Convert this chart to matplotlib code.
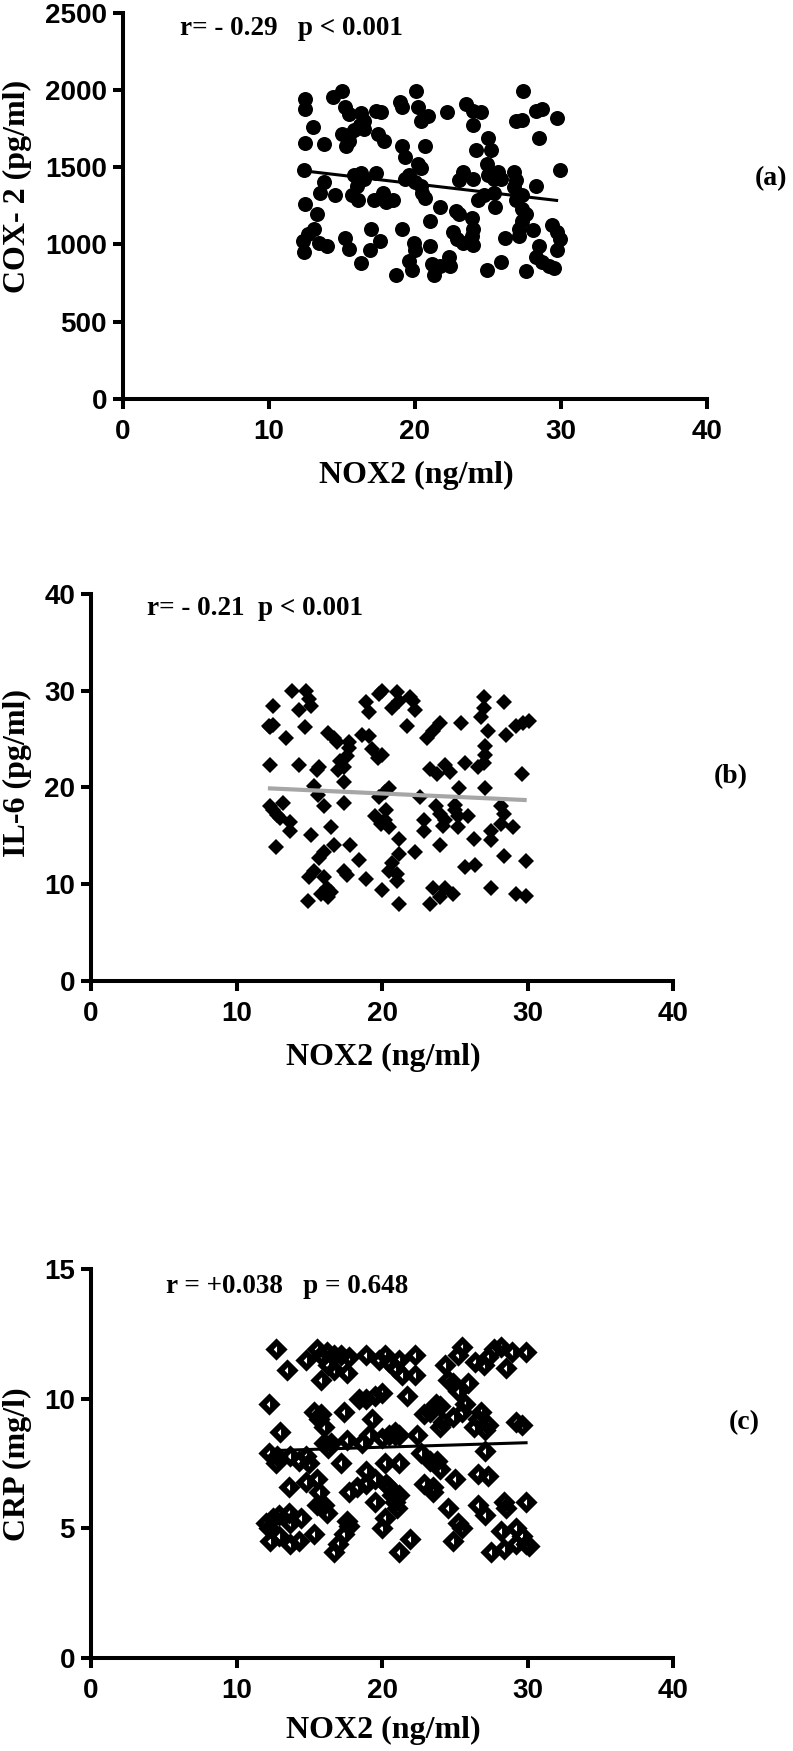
import matplotlib
matplotlib.use("Agg")
import matplotlib.pyplot as plt
from matplotlib.path import Path

# Panel (a): NOX2 vs COX-2
nox_a = [12.5, 12.5, 13.0, 12.5, 13.8, 12.4, 13.8, 13.5, 14.5, 12.5, 13.3, 13.1, 12.7, 12.3, 12.4,
         13.4, 14.0, 14.4, 15.0, 15.2, 15.5, 15.0, 15.5, 15.8, 15.3, 15.5, 16.3, 16.5, 16.2, 16.5,
         17.3, 17.7, 17.5, 17.9, 15.8, 16.0, 16.3, 16.5, 17.3, 15.7, 16.1, 17.2, 17.8, 18.0, 18.5,
         17.0, 15.2, 15.5, 16.3, 16.9, 17.6, 18.7, 19.1, 19.0, 19.1, 19.1, 19.3, 19.3, 19.6, 20.1,
         20.2, 20.4, 20.9, 20.7, 20.2, 20.4, 20.0, 20.4, 20.5, 20.7, 21.7, 21.0, 19.6, 19.8, 19.9,
         20.0, 21.0, 21.2, 21.3, 21.7, 22.2, 22.3, 22.4, 23.5, 24.0, 24.5, 24.0, 24.2, 23.3, 23.0,
         24.0, 22.8, 23.0, 23.9, 24.0, 23.9, 22.6, 22.9, 23.3, 24.0, 24.3, 24.7, 25.0, 25.2, 24.9,
         25.0, 25.4, 25.7, 25.9, 25.4, 25.5, 24.9, 25.9, 26.2, 26.9, 27.3, 27.4, 26.8, 26.9, 26.8,
         27.3, 26.9, 27.3, 27.6, 27.3, 27.1, 27.1, 27.6, 28.3, 28.7, 28.5, 28.3, 28.1, 28.5, 28.3,
         28.7, 29.2, 29.4, 29.7, 29.7, 29.9, 29.9, 29.7, 29.5]
cox2 = [1939, 1876, 1761, 1657, 1650, 1484, 1403, 1334, 1322, 1260, 1196, 1103, 1069, 1022, 953,
        1011, 993, 1953, 1992, 1888, 1842, 1717, 1705, 1740, 1634, 1668, 1853, 1796, 1773, 1750,
        1865, 1860, 1715, 1668, 1449, 1380, 1461, 1426, 1461, 1322, 1288, 1288, 1334, 1276, 1288,
        1103, 1045, 972, 877, 965, 1022, 803, 1103, 1923, 1888, 1634, 1565, 1426, 1449, 1992,
        1888, 1796, 1830, 1634, 1519, 1496, 1403, 1380, 1334, 1300, 1242, 1149, 895, 838, 1011,
        965, 988, 872, 803, 861, 1858, 918, 861, 1911, 1865, 1858, 1773, 1611, 1472, 1415,
        1426, 1219, 1196, 1172, 1103, 1057, 1080, 1034, 1011, 999, 1288, 1322, 1692, 1611, 1519,
        1449, 1426, 1472, 1426, 1334, 1242, 838, 884, 1045, 1796, 1807, 1992, 1472, 1415, 1369,
        1322, 1288, 1230, 1196, 1149, 1103, 1057, 826, 1865, 1876, 1692, 1380, 1092, 988, 918,
        884, 861, 1126, 1080, 1819, 1484, 1034, 965, 849]
fit_a_x = [12.5, 29.7]
fit_a_y = [1475, 1285]

# Panel (b): NOX2 vs IL-6
nox_b = [12.5, 12.2, 12.3, 12.5, 12.3, 12.3, 12.5, 12.8, 13.0, 13.2, 13.7, 13.7, 12.7, 13.4, 13.8,
         14.3, 14.3, 14.8, 15.0, 15.1, 14.7, 15.5, 15.7, 15.3, 15.6, 16.0, 15.1, 14.9, 15.0, 15.3,
         15.7, 16.0, 16.0, 16.2, 15.8, 16.5, 16.3, 16.5, 16.7, 16.3, 16.7, 16.9, 17.1, 17.4, 17.0,
         17.6, 17.7, 17.7, 17.4, 17.4, 17.4, 17.6, 17.8, 18.4, 18.6, 19.1, 18.9, 19.1, 19.3, 19.7,
         20.0, 18.9, 19.5, 19.9, 20.2, 20.0, 19.8, 20.0, 19.8, 20.2, 20.3, 20.5, 20.5, 20.7, 20.5,
         21.0, 21.0, 21.2, 21.2, 21.2, 20.7, 21.0, 21.2, 21.7, 21.9, 22.1, 22.3, 22.3, 22.6, 22.9,
         22.9, 23.1, 23.5, 23.3, 23.8, 24.3, 23.3, 23.5, 24.0, 24.3, 24.9, 23.7, 24.0, 24.2, 24.3,
         24.0, 24.0, 24.7, 25.0, 25.2, 25.0, 25.2, 25.4, 25.3, 25.7, 25.7, 25.9, 26.3, 26.4, 26.6,
         27.0, 27.1, 27.1, 27.3, 27.0, 27.0, 26.8, 27.1, 27.5, 27.5, 27.5, 28.2, 28.4, 28.2, 28.4,
         28.5, 28.4, 29.0, 29.2, 29.7, 30.1, 29.2, 29.9, 29.6, 29.9]
il6 = [28.4, 26.4, 26.2, 26.5, 22.3, 18.1, 17.7, 17.1, 16.8, 18.4, 16.4, 15.5, 13.8, 25.1, 30.0,
       28.0, 22.3, 30.0, 29.1, 28.4, 26.2, 21.8, 22.1, 20.1, 19.2, 18.1, 15.1, 8.3, 10.7, 11.4,
       12.7, 13.3, 10.7, 9.6, 9.0, 9.2, 8.7, 15.9, 14.0, 25.6, 25.1, 24.7, 22.7, 22.1, 21.8,
       23.2, 24.1, 24.7, 20.6, 18.4, 11.4, 10.9, 14.0, 12.5, 25.4, 25.3, 28.8, 27.8, 24.0, 23.0,
       23.4, 10.5, 17.0, 16.2, 16.6, 9.4, 29.7, 30.0, 19.0, 19.5, 17.7, 15.9, 19.9, 12.2, 11.4,
       11.1, 10.3, 7.9, 14.7, 13.1, 28.2, 29.9, 28.9, 26.4, 29.3, 28.9, 28.0, 13.3, 19.0, 15.5,
       16.6, 25.1, 25.8, 21.9, 21.4, 22.3, 7.9, 9.6, 8.7, 9.6, 9.0, 18.1, 17.3, 16.0, 16.6,
       14.0, 26.7, 21.6, 18.2, 17.0, 17.7, 15.9, 26.7, 19.9, 22.5, 11.8, 17.0, 14.7, 12.0, 22.1,
       22.5, 23.4, 24.3, 25.8, 28.2, 29.3, 27.3, 19.9, 15.5, 14.6, 9.6, 18.1, 17.3, 16.2, 28.8,
       25.4, 12.9, 15.9, 26.4, 26.7, 26.9, 9.0, 8.8, 21.4, 12.4]
fit_b_x = [12.3, 29.8]
fit_b_y = [19.9, 18.7]

# Panel (c): NOX2 vs CRP
nox_c = [12.7, 13.5, 12.2, 13.0, 12.2, 12.7, 12.8, 13.6, 13.7, 14.3, 12.0, 12.2, 12.5, 12.9, 12.3,
         12.9, 13.7, 14.3, 13.6, 14.4, 13.7, 15.3, 14.8, 15.5, 15.8, 16.2, 15.3, 15.8, 15.7, 15.8,
         16.0, 16.3, 14.8, 15.0, 15.5, 15.7, 15.5, 16.0, 14.8, 16.2, 16.0, 16.3, 16.5, 16.7, 17.0,
         17.4, 17.7, 17.6, 16.7, 17.2, 17.7, 17.6, 16.7, 17.4, 17.2, 17.6, 17.7, 18.3, 18.4, 18.9,
         19.5, 20.0, 18.9, 19.3, 18.6, 19.1, 18.9, 19.5, 19.5, 18.9, 20.0, 20.2, 19.8, 20.2, 20.5,
         20.9, 21.2, 20.0, 20.5, 20.9, 20.3, 20.5, 20.7, 20.9, 21.0, 21.2, 20.2, 21.2, 21.2, 21.9,
         21.4, 21.7, 22.3, 22.3, 20.9, 21.2, 22.4, 22.9, 23.3, 23.7, 24.0, 22.9, 23.5, 23.5, 22.7,
         23.3, 23.8, 24.0, 24.0, 24.2, 24.3, 24.5, 24.9, 25.2, 24.5, 24.9, 25.0, 24.9, 25.2, 25.5,
         25.2, 25.5, 25.7, 25.5, 25.9, 26.3, 26.6, 26.8, 27.1, 27.3, 26.4, 27.0, 27.3, 26.6, 27.1,
         26.6, 27.3, 27.1, 27.5, 27.7, 28.2, 28.5, 28.4, 28.5, 28.2, 28.4, 29.2, 28.9, 29.2, 29.6,
         29.2, 29.6, 29.9, 29.9, 29.9, 30.1]
crp = [11.9, 11.1, 9.8, 8.7, 7.9, 7.5, 7.8, 6.6, 7.8, 7.6, 5.2, 5.0, 5.4, 5.5, 4.5,
       4.7, 4.4, 4.5, 5.6, 5.4, 5.2, 4.8, 11.5, 11.9, 11.7, 11.8, 9.5, 9.4, 9.2, 10.7,
       8.9, 11.3, 7.8, 7.5, 6.9, 6.4, 5.9, 5.9, 6.8, 5.6, 8.3, 8.1, 8.3, 4.1, 4.4,
       4.8, 5.1, 5.3, 11.7, 11.7, 11.6, 11.0, 11.1, 9.5, 7.5, 8.4, 6.4, 6.6, 10.0, 10.0,
       10.1, 10.2, 11.7, 9.2, 8.3, 8.6, 7.2, 6.9, 6.0, 6.7, 5.0, 5.4, 11.5, 11.7, 11.4,
       11.2, 11.5, 8.5, 8.6, 8.6, 6.7, 6.6, 6.3, 6.0, 5.8, 6.3, 7.5, 7.5, 4.1, 4.6,
       10.9, 10.1, 10.9, 11.7, 8.7, 8.6, 8.6, 9.4, 9.5, 9.8, 9.7, 6.7, 6.6, 6.4, 7.9,
       7.6, 7.6, 7.3, 8.9, 9.1, 11.3, 10.7, 10.6, 10.3, 5.8, 4.5, 6.9, 9.3, 5.2, 5.0,
       11.7, 12.0, 9.8, 9.5, 10.6, 8.9, 9.2, 9.5, 8.8, 9.0, 11.4, 11.3, 11.6, 5.9, 5.5,
       7.1, 7.0, 8.0, 4.1, 11.9, 12.0, 11.2, 6.0, 5.8, 4.9, 4.2, 4.4, 11.8, 9.1, 9.0,
       5.0, 4.7, 11.8, 6.0, 4.4, 4.3]
fit_c_x = [12.7, 29.9]
fit_c_y = [8.0, 8.3]

SANS = ["Liberation Sans", "DejaVu Sans"]
SERIF = ["Liberation Serif", "DejaVu Serif"]

# diamond with a small left-pointing notch cut out, like the CRP markers
notched_diamond = Path(
    [(0, 1), (-1, 0), (0, -1), (1, 0), (0, 1),
     (0.05, 0.3), (0.05, -0.3), (-0.25, 0.0), (0.05, 0.3)],
    [Path.MOVETO, Path.LINETO, Path.LINETO, Path.LINETO, Path.CLOSEPOLY,
     Path.MOVETO, Path.LINETO, Path.LINETO, Path.CLOSEPOLY])


def style_axes(ax, yticks):
    for side in ["top", "right"]:
        ax.spines[side].set_visible(False)
    for side in ["left", "bottom"]:
        ax.spines[side].set_linewidth(2.9)
        ax.spines[side].set_capstyle("projecting")
    ax.set_xlim(0, 40)
    ax.set_xticks([0, 10, 20, 30, 40])
    ax.set_ylim(yticks[0], yticks[-1])
    ax.set_yticks(yticks)
    ax.tick_params(direction="out", length=7.5, width=2.9, color="black")
    ax.tick_params(axis="x", pad=7)
    ax.tick_params(axis="y", pad=4)
    for lab in ax.get_xticklabels() + ax.get_yticklabels():
        lab.set_family(SANS)
        lab.set_fontweight("bold")
        lab.set_fontsize(20)
    for sp in ax.spines.values():
        sp.set_zorder(5)


def add_labels(ax, ylabel, xlab_pos, ylab_pos):
    ax.set_xlabel("NOX2 (ng/ml)", family=SERIF, fontweight="bold", fontsize=23)
    ax.set_ylabel(ylabel, family=SERIF, fontweight="bold", fontsize=23)
    ax.xaxis.set_label_coords(*xlab_pos)
    ax.xaxis.label.set_va("center")
    ax.yaxis.set_label_coords(*ylab_pos)
    ax.yaxis.label.set_va("center")


fig = plt.figure(figsize=(7.93, 17.51), dpi=100)

# (a)
ax1 = fig.add_axes([0.1551, 0.7721, 0.7364, 0.2207])
ax1.plot(nox_a, cox2, linestyle="none", marker="o", markersize=10.8,
         color="black", markeredgewidth=0, clip_on=False)
ax1.plot(fit_a_x, fit_a_y, color="black", linewidth=2.2)
style_axes(ax1, [0, 500, 1000, 1500, 2000, 2500])
add_labels(ax1, "COX- 2 (pg/ml)", (0.503, -0.197), (-0.180, 0.549))
ax1.text(0.098, 0.958, "r= - 0.29   p < 0.001", transform=ax1.transAxes,
         family=SERIF, fontweight="bold", fontsize=19.5, va="center", ha="left")
fig.text(0.972, 0.898, "(a)", family=SERIF, fontweight="bold", fontsize=20,
         ha="center", va="center")

# (b)
ax2 = fig.add_axes([0.1148, 0.4398, 0.7339, 0.2210])
ax2.plot(nox_b, il6, linestyle="none", marker="D", markersize=7.8,
         color="black", markeredgewidth=0, clip_on=False)
ax2.plot(fit_b_x, fit_b_y, color="#a6a6a6", linewidth=3.0)
style_axes(ax2, [0, 10, 20, 30, 40])
add_labels(ax2, "IL-6 (pg/ml)", (0.502, -0.199), (-0.126, 0.537))
ax2.text(0.096, 0.962, "r= - 0.21  p < 0.001", transform=ax2.transAxes,
         family=SERIF, fontweight="bold", fontsize=19.5, va="center", ha="left")
fig.text(0.922, 0.5563, "(b)", family=SERIF, fontweight="bold", fontsize=20,
         ha="center", va="center")

# (c)
ax3 = fig.add_axes([0.1148, 0.0531, 0.7339, 0.2222])
ax3.plot(nox_c, crp, linestyle="none", marker=notched_diamond, markersize=16,
         color="black", markeredgewidth=0, clip_on=False)
ax3.plot(fit_c_x, fit_c_y, color="black", linewidth=2.2)
style_axes(ax3, [0, 5, 10, 15])
add_labels(ax3, "CRP (mg/l)", (0.502, -0.185), (-0.126, 0.499))
ax3.text(0.129, 0.954, "r = +0.038   p = 0.648", transform=ax3.transAxes,
         family=SERIF, fontweight="bold", fontsize=19.5, va="center", ha="left")
fig.text(0.938, 0.1873, "(c)", family=SERIF, fontweight="bold", fontsize=20,
         ha="center", va="center")

fig.savefig("out.png", dpi=100)
